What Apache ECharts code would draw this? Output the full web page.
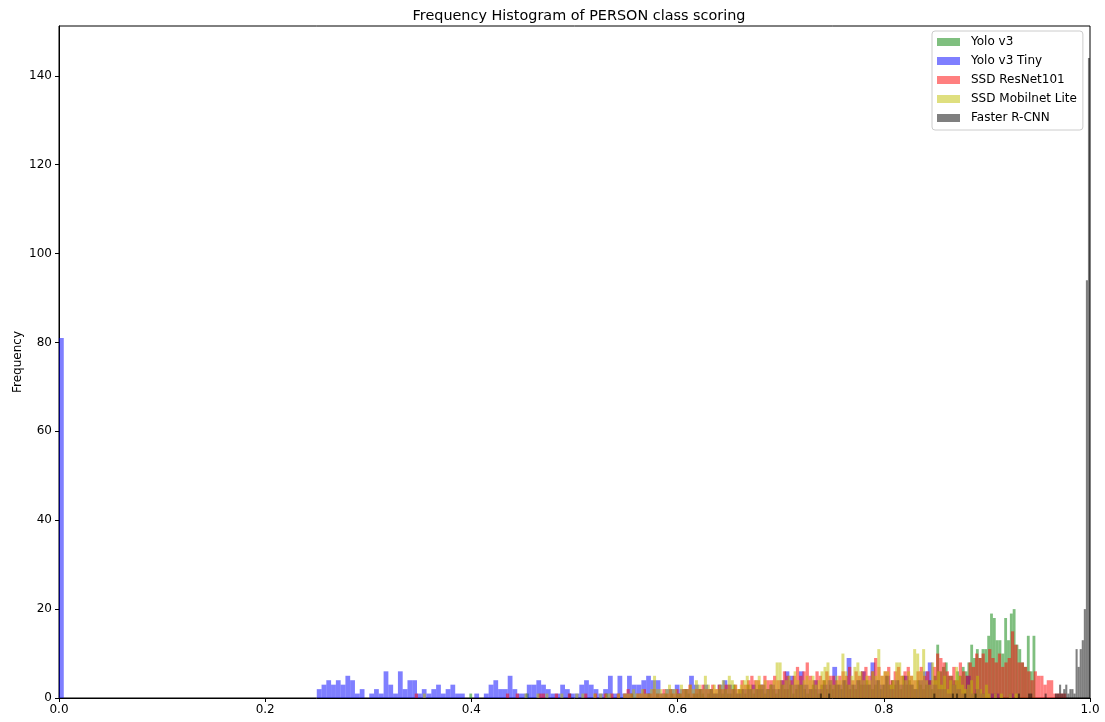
<!DOCTYPE html>
<html>
<head>
<meta charset="utf-8">
<script src="https://cdn.jsdelivr.net/npm/echarts@6/dist/echarts.min.js"></script>
<style>
  html, body { margin: 0; padding: 0; background: #fff; }
  #chart { width: 1105px; height: 722px; }
</style>
</head>
<body>
<div id="chart"></div>
<script>
// Frequency histogram of detector confidence scores for the PERSON class.
// Each model's scores are binned into 200 equal bins over its own [lo, hi] range.

const titleText = 'Frequency Histogram of PERSON class scoring';
const yAxisName = 'Frequency';
const seriesNames = ['Yolo v3', 'Yolo v3 Tiny', 'SSD ResNet101', 'SSD Mobilnet Lite', 'Faster R-CNN'];
const seriesColors = ['rgba(0,128,0,0.5)', 'rgba(0,0,255,0.5)', 'rgba(255,0,0,0.5)', 'rgba(191,191,0,0.5)', 'rgba(0,0,0,0.5)'];
const xTicks = [0, 0.2, 0.4, 0.6, 0.8, 1.0];
const yTicks = [0, 20, 40, 60, 80, 100, 120, 140];

// Yolo v3
const yoloV3Range = [0.398, 0.947];
const yoloV3Counts = [
  1,0,0,0,0,0,0,0,0,0,
  0,0,0,0,0,0,0,0,0,0,
  1,0,0,0,0,0,0,0,0,0,
  0,0,0,0,0,1,0,0,0,0,
  0,0,0,0,0,0,0,0,1,0,
  0,0,0,0,0,0,0,1,0,0,
  0,0,0,1,0,0,1,0,0,1,
  0,1,0,1,1,0,2,1,0,1,
  1,2,1,0,1,2,1,1,2,1,
  2,1,1,3,1,2,2,1,3,2,
  1,2,3,2,1,2,3,2,1,2,
  3,2,2,3,1,2,3,3,2,1,
  2,3,2,1,3,4,2,3,2,3,
  3,2,4,3,2,3,2,4,3,3,
  4,3,2,3,4,2,3,5,3,4,
  3,4,2,5,3,4,3,2,4,3,
  2,3,4,2,5,12,6,7,8,5,
  5,4,6,5,7,6,8,12,9,11,
  9,11,11,14,19,18,13,13,10,18,
  13,19,20,12,11,8,7,14,6,14
];

// Yolo v3 Tiny
const yoloV3TinyRange = [0.0, 0.926];
const yoloV3TinyCounts = [
  81,0,0,0,0,0,0,0,0,0,
  0,0,0,0,0,0,0,0,0,0,
  0,0,0,0,0,0,0,0,0,0,
  0,0,0,0,0,0,0,0,0,0,
  0,0,0,0,0,0,0,0,0,0,
  0,0,0,0,2,3,4,3,4,3,
  5,4,1,2,0,1,2,1,6,3,
  1,6,2,4,4,1,2,1,2,3,
  1,2,3,1,1,0,0,1,0,1,
  3,4,2,2,5,2,1,1,3,3,
  4,3,2,1,1,3,2,1,1,3,
  4,3,2,1,2,5,1,5,1,5,
  3,3,4,5,4,4,1,2,2,3,
  2,2,5,3,2,3,2,1,3,4,
  3,2,1,2,2,3,2,3,2,3,
  2,4,6,5,3,6,3,2,4,2,
  3,4,7,3,4,9,3,4,6,3,
  8,4,3,5,2,4,3,5,3,2,
  4,6,8,3,2,2,1,3,2,1,
  5,1,2,1,0,1,1,0,0,1
];

// SSD ResNet101
const ssdResNetRange = [0.345, 0.977];
const ssdResNetCounts = [
  1,0,0,0,0,0,0,0,0,0,
  0,0,0,0,0,0,0,0,0,0,
  0,0,0,0,0,0,0,0,1,0,
  0,1,0,0,0,0,0,0,1,1,
  0,0,0,1,0,0,0,1,0,0,
  0,0,1,0,0,1,0,0,1,0,
  1,0,1,0,1,2,1,0,1,1,
  2,1,1,2,1,1,2,1,2,1,
  2,1,2,2,3,1,2,2,3,2,
  2,3,2,3,2,3,3,2,3,2,
  4,3,4,5,4,4,3,5,4,4,
  5,4,4,6,5,4,5,7,5,6,
  8,5,4,6,5,4,6,5,5,4,
  5,6,5,7,4,6,5,6,7,5,
  6,9,7,5,6,7,4,6,7,5,
  6,7,5,4,6,7,5,6,4,7,
  10,9,8,6,5,7,4,8,6,5,
  8,7,10,9,10,8,11,9,8,10,
  7,8,9,15,12,8,8,7,6,4,
  6,5,5,3,4,4,1,1,1,1
];

// SSD Mobilnet Lite
const ssdMobilnetRange = [0.35, 0.93];
const ssdMobilnetCounts = [
  0,1,0,0,0,0,0,0,0,0,
  0,0,0,0,0,0,0,0,0,0,
  0,0,0,0,0,0,0,0,0,0,
  0,0,0,0,0,1,0,0,0,1,
  0,0,1,0,0,0,0,1,0,0,
  0,0,1,0,1,0,0,0,1,0,
  1,0,1,1,0,0,1,0,1,1,
  1,2,1,1,2,1,1,2,5,2,
  2,1,2,3,2,2,1,3,2,2,
  3,2,4,3,2,5,3,2,3,2,
  3,4,2,5,4,3,2,3,4,5,
  3,2,4,5,3,4,2,3,4,8,
  8,3,4,5,3,6,4,3,4,5,
  4,5,3,4,6,7,8,4,3,5,
  4,10,6,3,5,7,8,6,4,5,
  4,6,5,11,5,6,6,3,4,8,
  8,5,4,6,5,11,10,6,11,4,
  3,8,4,6,3,5,2,4,3,7,
  5,3,2,3,4,1,5,2,1,3,
  1,0,1,0,1,0,0,1,0,1
];

// Faster R-CNN
const fasterRcnnRange = [0.6, 1.0];
const fasterRcnnCounts = [
  0,0,0,0,0,0,0,0,0,0,
  0,0,0,0,0,0,0,0,0,0,
  0,0,0,0,0,0,0,0,0,0,
  0,0,0,0,0,0,0,0,0,0,
  0,0,0,0,0,0,0,0,0,0,
  0,0,0,0,0,0,0,0,0,0,
  0,0,0,0,0,0,0,0,0,1,
  0,0,0,1,0,0,0,0,0,0,
  0,0,0,0,0,0,0,0,0,0,
  0,0,0,0,0,0,0,0,0,0,
  0,0,0,0,0,0,0,0,0,0,
  0,0,0,0,0,0,0,0,0,0,
  0,0,0,0,1,0,0,0,0,0,
  0,0,0,1,0,1,0,0,0,1,
  0,0,0,0,1,0,0,0,0,0,
  0,0,0,0,0,0,0,0,0,0,
  0,0,0,0,0,1,0,0,0,0,
  1,1,0,0,0,0,0,0,1,0,
  0,0,0,1,1,3,1,2,3,1,
  2,2,1,11,7,11,13,20,94,144
];

const countsList = [yoloV3Counts, yoloV3TinyCounts, ssdResNetCounts, ssdMobilnetCounts, fasterRcnnCounts];
const rangeList = [yoloV3Range, yoloV3TinyRange, ssdResNetRange, ssdMobilnetRange, fasterRcnnRange];

// Turn a counts array into [binStart, binEnd, count] rows.
function toBins(range, counts) {
  const w = (range[1] - range[0]) / counts.length;
  const rows = [];
  counts.forEach((c, i) => {
    if (c > 0) rows.push([range[0] + i * w, range[0] + (i + 1) * w, c]);
  });
  return rows;
}

const FONT = 'DejaVu Sans';

const series = seriesNames.map((name, si) => ({
  name: name,
  type: 'custom',
  clip: true,
  itemStyle: { color: seriesColors[si] },
  encode: { x: [0, 1], y: 2 },
  data: toBins(rangeList[si], countsList[si]),
  renderItem: function (params, api) {
    const top = api.coord([api.value(0), api.value(2)]);
    const bottom = api.coord([api.value(1), 0]);
    return {
      type: 'rect',
      shape: { x: top[0], y: top[1], width: bottom[0] - top[0], height: bottom[1] - top[1] },
      style: { fill: seriesColors[si] }
    };
  }
}));

const chart = echarts.init(document.getElementById('chart'), null, { renderer: 'canvas' });
chart.setOption({
  animation: false,
  backgroundColor: '#fff',
  title: {
    text: titleText,
    left: 574,
    textAlign: 'center',
    top: 4,
    textStyle: { fontFamily: FONT, fontSize: 14.4, fontWeight: 'normal', color: '#000' }
  },
  legend: {
    data: seriesNames,
    orient: 'vertical',
    left: 932,
    top: 31,
    padding: [4, 6, 5, 5],
    itemGap: 5,
    itemWidth: 23,
    itemHeight: 8,
    icon: 'rect',
    backgroundColor: 'rgba(255,255,255,0.8)',
    borderColor: '#cccccc',
    borderWidth: 1,
    borderRadius: 3,
    textStyle: { fontFamily: FONT, fontSize: 12, color: '#000', lineHeight: 14, padding: [0, 0, 0, 6] }
  },
  grid: {
    left: 59, right: 15, top: 26, bottom: 24,
    outerBoundsMode: 'none',
    containLabel: false,
    show: true, borderColor: '#000', borderWidth: 1, backgroundColor: 'transparent'
  },
  xAxis: {
    type: 'value',
    min: xTicks[0],
    max: xTicks[xTicks.length - 1],
    interval: 0.2,
    splitLine: { show: false },
    axisLine: { show: true, lineStyle: { color: '#000', width: 1 } },
    axisTick: { show: true, inside: false, length: 4, lineStyle: { color: '#000' } },
    axisLabel: {
      margin: 6,
      fontFamily: FONT, fontSize: 12, color: '#000',
      formatter: v => v.toFixed(1)
    }
  },
  yAxis: {
    type: 'value',
    min: yTicks[0],
    max: 151.2,
    interval: 20,
    name: yAxisName,
    nameLocation: 'middle',
    nameGap: 35,
    nameMoveOverlap: false,
    nameTextStyle: { fontFamily: FONT, fontSize: 12, color: '#000' },
    splitLine: { show: false },
    axisLine: { show: true, lineStyle: { color: '#000', width: 1 } },
    axisTick: { show: true, inside: false, length: 4, lineStyle: { color: '#000' } },
    axisLabel: {
      margin: 7,
      showMaxLabel: false,
      fontFamily: FONT, fontSize: 12, color: '#000',
      formatter: v => (yTicks.indexOf(v) >= 0 ? String(v) : '')
    }
  },
  series: series
});
</script>
</body>
</html>
